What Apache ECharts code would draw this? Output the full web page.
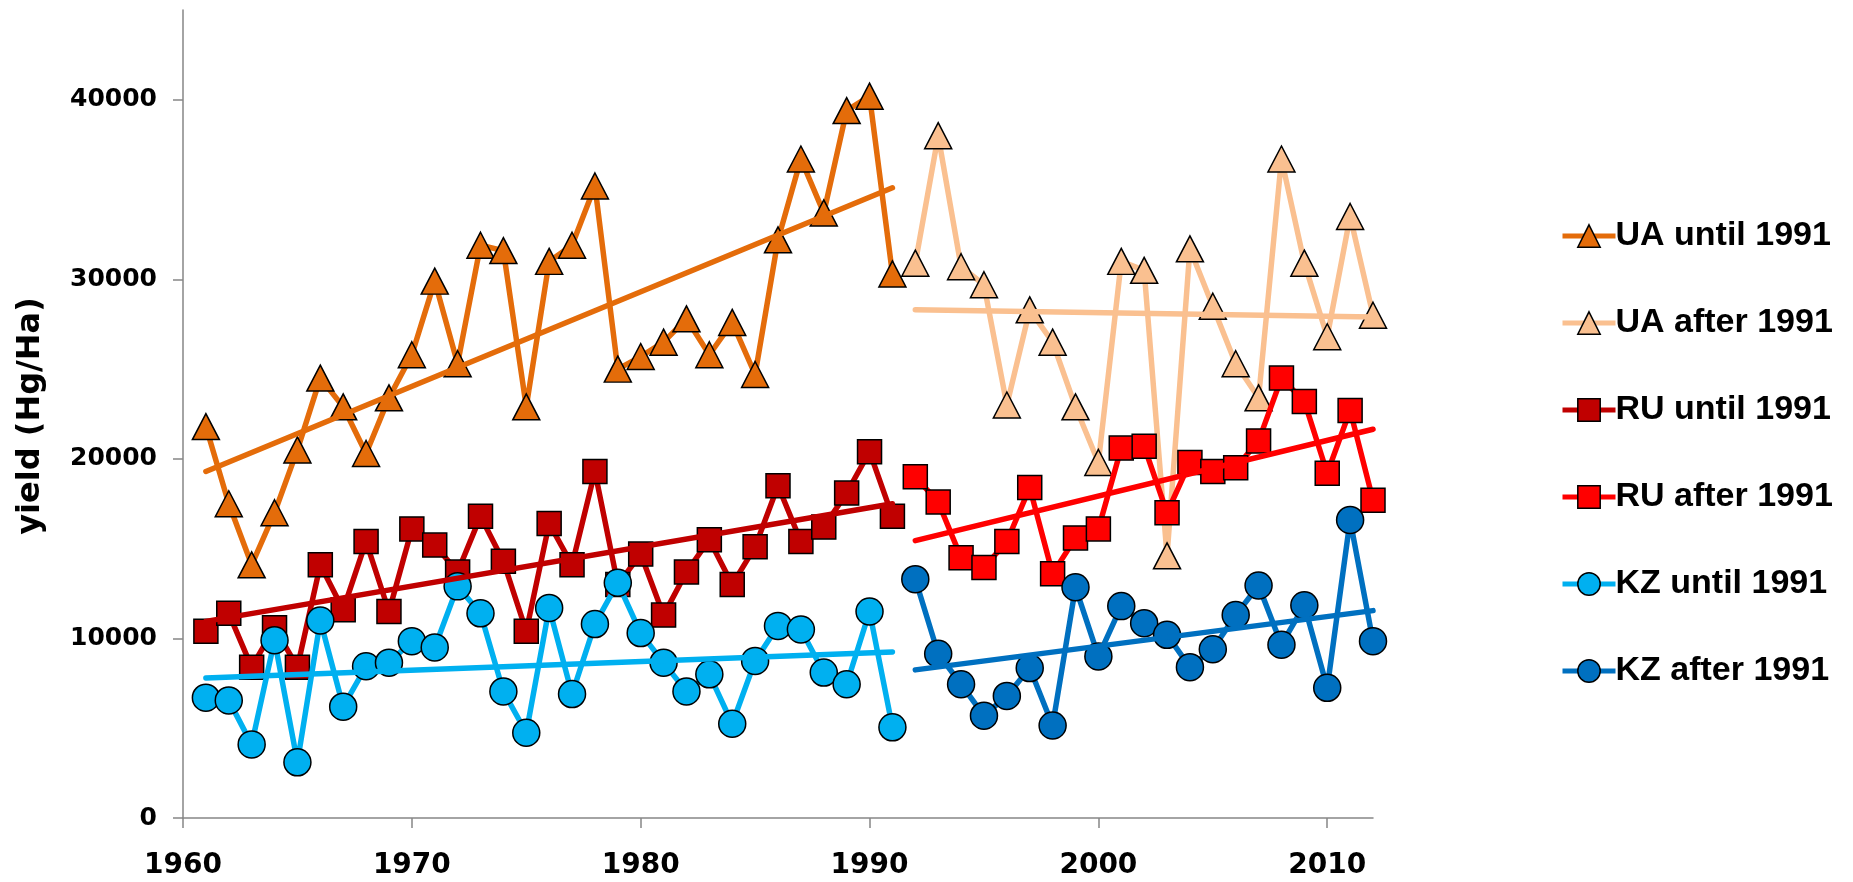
<!DOCTYPE html>
<html>
<head>
<meta charset="utf-8">
<script src="https://cdn.jsdelivr.net/npm/echarts@6/dist/echarts.min.js"></script>
<style>
  html, body { margin: 0; padding: 0; background: #ffffff; }
  #chart { width: 1853px; height: 882px; }
</style>
</head>
<body>
<div id="chart"></div>
<script>
// Years before and after 1991
const yearsUntil = [1961, 1962, 1963, 1964, 1965, 1966, 1967, 1968, 1969, 1970,
  1971, 1972, 1973, 1974, 1975, 1976, 1977, 1978, 1979, 1980,
  1981, 1982, 1983, 1984, 1985, 1986, 1987, 1988, 1989, 1990, 1991];
const yearsAfter = [1992, 1993, 1994, 1995, 1996, 1997, 1998, 1999, 2000, 2001,
  2002, 2003, 2004, 2005, 2006, 2007, 2008, 2009, 2010, 2011, 2012];

// Yield, Hg/Ha
const uaUntil = [21800, 17500, 14100, 17000, 20500, 24500, 22900, 20300, 23400, 25800,
  29900, 25300, 31900, 31600, 22900, 31000, 31900, 35200, 25000, 25700,
  26500, 27800, 25800, 27600, 24700, 32200, 36700, 33700, 39400, 40200, 30300];
const uaAfter = [30900, 38000, 30700, 29700, 23000, 28300, 26500, 22900, 19800, 31000,
  30500, 14600, 31700, 28500, 25300, 23400, 36700, 30900, 26800, 33500, 28000];
const ruUntil = [10400, 11400, 8400, 10600, 8400, 14100, 11600, 15400, 11500, 16100,
  15200, 13700, 16800, 14300, 10400, 16400, 14100, 19300, 13000, 14700,
  11300, 13700, 15500, 13000, 15100, 18500, 15400, 16200, 18100, 20400, 16800];
const ruAfter = [19000, 17600, 14500, 13950, 15400, 18400, 13600, 15600, 16100, 20600,
  20700, 17000, 19800, 19300, 19500, 21000, 24500, 23200, 19200, 22700, 17700];
const kzUntil = [6700, 6550, 4100, 9900, 3100, 11000, 6200, 8450, 8650, 9850,
  9500, 12900, 11400, 7050, 4750, 11700, 6900, 10800, 13100, 10300,
  8650, 7050, 8000, 5250, 8750, 10700, 10500, 8100, 7450, 11500, 5050];
const kzAfter = [13300, 9150, 7450, 5700, 6800, 8350, 5150, 12850, 9000, 11800,
  10850, 10200, 8400, 9400, 11300, 12950, 9650, 11850, 7250, 16600, 9850];

// Linear trend end values (first year, last year of each period)
const uaUntilTrend = [19300, 35100];
const uaAfterTrend = [28300, 27900];
const ruUntilTrend = [10950, 17500];
const ruAfterTrend = [15450, 21650];
const kzUntilTrend = [7800, 9250];
const kzAfterTrend = [8250, 11550];

const seriesNames = ['UA until 1991', 'UA after 1991', 'RU until 1991',
  'RU after 1991', 'KZ until 1991', 'KZ after 1991'];

const xTicks = [1960, 1970, 1980, 1990, 2000, 2010];
const yTicks = [0, 10000, 20000, 30000, 40000];
const yTitle = 'yield (Hg/Ha)';

const colors = ['#E46C0A', '#FAC090', '#C00000', '#FF0000', '#00B0F0', '#0070C0'];
const symbols = ['triangle', 'triangle', 'rect', 'rect', 'circle', 'circle'];
const symbolSizes = [[27, 26], [27, 26], 24, 24, 27, 27];

const periods = [
  [yearsUntil, uaUntil, uaUntilTrend],
  [yearsAfter, uaAfter, uaAfterTrend],
  [yearsUntil, ruUntil, ruUntilTrend],
  [yearsAfter, ruAfter, ruAfterTrend],
  [yearsUntil, kzUntil, kzUntilTrend],
  [yearsAfter, kzAfter, kzAfterTrend]
];

const pair = (xs, ys) => xs.map((x, i) => [x, ys[i]]);

const dataSeries = periods.map((p, i) => ({
  name: seriesNames[i],
  type: 'line',
  data: pair(p[0], p[1]),
  symbol: symbols[i],
  symbolSize: symbolSizes[i],
  showAllSymbol: true,
  lineStyle: { color: colors[i], width: 5.5, join: 'round' },
  itemStyle: { color: colors[i], borderColor: '#000000', borderWidth: 1.5 },
  z: 2 + i,
  animation: false
}));

const trendSeries = periods.map((p, i) => ({
  name: seriesNames[i] + ' trend',
  type: 'line',
  data: [[p[0][0], p[2][0]], [p[0][p[0].length - 1], p[2][1]]],
  showSymbol: false,
  symbol: 'none',
  lineStyle: { color: colors[i], width: 5.5, cap: 'round' },
  itemStyle: { color: colors[i] },
  z: 10,
  silent: true,
  animation: false
}));

const chart = echarts.init(document.getElementById('chart'), null, { renderer: 'canvas' });

chart.setOption({
  backgroundColor: '#ffffff',
  animation: false,
  grid: { left: 183, right: 480, top: 10, bottom: 64, containLabel: false },
  graphic: [{
    // rotated y-axis title
    type: 'text',
    x: 31,
    y: 416,
    rotation: Math.PI / 2,
    silent: true,
    style: {
      text: yTitle,
      font: 'bold 32px "DejaVu Sans", sans-serif',
      fill: '#000000',
      align: 'center',
      verticalAlign: 'middle'
    }
  }],
  legend: {
    data: seriesNames,
    orient: 'vertical',
    left: 1555,
    top: 211,
    itemWidth: 53,
    itemHeight: 28,
    itemGap: 47,
    lineStyle: { width: 5 },
    itemStyle: { borderColor: '#000000', borderWidth: 1.5 },
    textStyle: {
      fontFamily: 'Liberation Sans',
      fontWeight: 'bold',
      fontSize: 34,
      color: '#000000',
      lineHeight: 40,
      padding: [0, 0, 0, -5]
    }
  },
  xAxis: {
    type: 'value',
    min: 1960,
    max: 2012,
    interval: 10,
    splitLine: { show: false },
    axisLine: { onZero: false, lineStyle: { color: '#868686', width: 1.5 } },
    axisTick: { show: true, length: 10, customValues: xTicks, lineStyle: { color: '#868686', width: 1.5 } },
    axisLabel: {
      customValues: xTicks,
      margin: 34,
      fontFamily: 'DejaVu Sans',
      fontWeight: 'bold',
      fontSize: 28,
      color: '#000000',
      formatter: v => String(v)
    }
  },
  yAxis: {
    type: 'value',
    min: 0,
    max: 45000,
    interval: 10000,
    splitLine: { show: false },
    axisLine: { show: true, lineStyle: { color: '#868686', width: 1.5 } },
    axisTick: { show: true, length: 10, customValues: yTicks, lineStyle: { color: '#868686', width: 1.5 } },
    axisLabel: {
      customValues: yTicks,
      margin: 26,
      fontFamily: 'DejaVu Sans',
      fontWeight: 'bold',
      fontSize: 25,
      color: '#000000',
      formatter: v => String(v)
    }
  },
  series: dataSeries.concat(trendSeries)
});
</script>
</body>
</html>
